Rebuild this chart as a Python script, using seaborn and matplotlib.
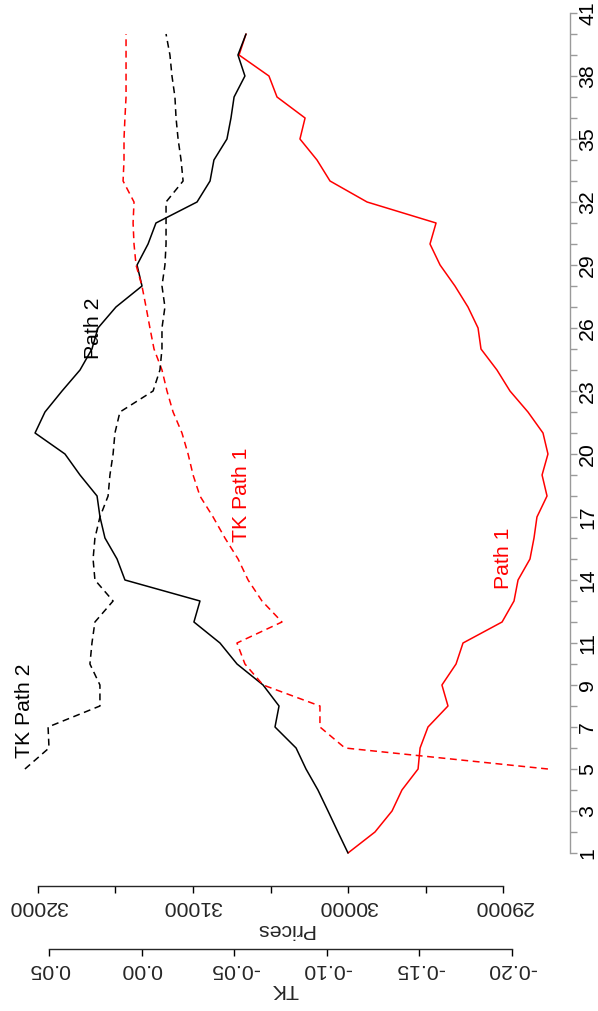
import matplotlib
matplotlib.use("Agg")
import matplotlib.pyplot as plt
import seaborn as sns

# ---- data -----------------------------------------------------------------
time = list(range(1, 41))
path1 = [30000, 29826, 29716, 29652, 29548, 29535, 29484, 29355, 29394, 29303,
         29258, 29006, 28929, 28903, 28826, 28800, 28781, 28716, 28748, 28710,
         28742, 28839, 28955, 29039, 29142, 29161, 29226, 29310, 29406, 29471,
         29432, 29877, 30116, 30200, 30310, 30277, 30458, 30510, 30703, 30658]
path2 = [30000, 30065, 30129, 30194, 30271, 30335, 30471, 30445, 30548, 30716,
         30826, 30994, 30955, 31439, 31490, 31568, 31600, 31619, 31729, 31826,
         32019, 31955, 31845, 31729, 31652, 31613, 31497, 31329, 31361, 31290,
         31239, 30974, 30890, 30865, 30781, 30755, 30735, 30665, 30710, 30658]

tk_time = list(range(5, 41))
tk_path1 = [-0.2194, -0.1098, -0.0963, -0.0963, -0.0656, -0.0558, -0.0515, -0.0758,
            -0.0650, -0.0575, -0.0521, -0.0450, -0.0386, -0.0315, -0.0278, -0.0251,
            -0.0218, -0.0170, -0.0137, -0.0110, -0.0067, -0.0045, -0.0024, -0.0002,
            0.0030, 0.0041, 0.0046, 0.0041, 0.0100, 0.0095, 0.0095, 0.0090,
            0.0084, 0.0084, 0.0084, 0.0084]
tk_path2 = [0.0630, 0.0500, 0.0505, 0.0225, 0.0225, 0.0279, 0.0268, 0.0252,
            0.0154, 0.0252, 0.0262, 0.0252, 0.0225, 0.0181, 0.0171, 0.0154,
            0.0144, 0.0117, -0.0062, -0.0099, -0.0110, -0.0110, -0.0126, -0.0110,
            -0.0126, -0.0132, -0.0132, -0.0132, -0.0224, -0.0213, -0.0197, -0.0186,
            -0.0180, -0.0164, -0.0153, -0.0132]

price_ticks = [29000, 30000, 31000, 32000]
price_minor = [29500, 30500, 31500]
tk_ticks = [-0.20, -0.15, -0.10, -0.05, 0.00, 0.05]
tk_labels = ["-0.20", "-0.15", "-0.10", "-0.05", "0.00", "0.05"]
time_ticks = [1, 3, 5, 7, 9, 11, 14, 17, 20, 23, 26, 29, 32, 35, 38, 41]

# ---- style ----------------------------------------------------------------
sns.set_theme(style="ticks")
plt.rcParams["font.family"] = ["Liberation Sans", "DejaVu Sans"]
FS = 15.3
LW = 1.1

W, H = 598, 1011
fig = plt.figure(figsize=(W / 100, H / 100), dpi=100)
fig.patch.set_facecolor("white")
L, R, T, B = 20, 560, 5, 872
ax = fig.add_axes([L / W, 1 - B / H, (R - L) / W, (B - T) / H])
ax.set_facecolor("none")

# price paths (price on the horizontal axis, time running upwards)
sns.lineplot(x=path1, y=time, orient="y", sort=False, estimator=None,
             color="#FF0000", lw=LW, ax=ax)
sns.lineplot(x=path2, y=time, orient="y", sort=False, estimator=None,
             color="black", lw=LW, ax=ax)
ax.set_xlim(32116.1, 28632.3)
ax.set_ylim(0.0952, 41.381)

# TK values on a second horizontal scale
ax2 = ax.twiny()
sns.lineplot(x=tk_path1, y=tk_time, orient="y", sort=False, estimator=None,
             color="#FF0000", lw=LW, linestyle=(0, (4.5, 3)), ax=ax2)
sns.lineplot(x=tk_path2, y=tk_time, orient="y", sort=False, estimator=None,
             color="black", lw=LW, linestyle=(0, (4.5, 3)), ax=ax2)
ax2.set_xlim(0.06566, -0.22592)
ax2.set_ylim(0.0952, 41.381)

# ---- spines and ticks -----------------------------------------------------
for s in ["top", "left"]:
    ax.spines[s].set_visible(False)
for s in ["top", "left", "right"]:
    ax2.spines[s].set_visible(False)

ax.spines["bottom"].set_position(("outward", 14 * 0.72))
ax.spines["bottom"].set_bounds(29000, 32000)
ax.spines["bottom"].set_linewidth(1.0)
ax.spines["right"].set_position(("outward", 10 * 0.72))
ax.spines["right"].set_bounds(1, 41)
ax.spines["right"].set_color("#9a9a9a")
ax.spines["right"].set_linewidth(1.0)

ax.set_xticks(price_ticks, [str(p) for p in price_ticks])
ax.set_xticks(price_minor, minor=True)
ax.tick_params(axis="x", which="both", direction="out", length=5, width=1.0,
               color="black", pad=3.2, labelsize=FS, labelrotation=180,
               bottom=True, top=False)

ax.yaxis.tick_right()
minor_time = [t for t in range(1, 42) if t not in time_ticks]
ax.set_yticks(time_ticks, [str(t) for t in time_ticks], rotation=90, va="center")
ax.set_yticks(minor_time, minor=True)
ax.tick_params(axis="y", which="both", direction="out", length=5, width=1.0,
               color="#9a9a9a", labelcolor="black", pad=0.8, labelsize=FS,
               right=True, left=False, labelright=True, labelleft=False)

ax2.xaxis.set_ticks_position("bottom")
ax2.xaxis.set_label_position("bottom")
ax2.spines["bottom"].set_position(("outward", 77 * 0.72))
ax2.spines["bottom"].set_bounds(-0.20, 0.05)
ax2.spines["bottom"].set_linewidth(1.0)
ax2.set_xticks(tk_ticks, tk_labels)
ax2.tick_params(axis="x", direction="out", length=5, width=1.0, color="black",
                pad=3.2, labelsize=FS, labelrotation=180, bottom=True, top=False)

# axis titles (upside down, like the tick labels)
ax.set_xlabel("Prices", rotation=180, fontsize=FS, va="center")
ax.xaxis.set_label_coords((285 - L) / (R - L), (B - 930) / (B - T))
ax2.set_xlabel("TK", rotation=180, fontsize=FS, va="center")
ax2.xaxis.set_label_coords((285 - L) / (R - L), (B - 989.5) / (B - T))
ax.set_ylabel("")

# path annotations
ax.text(32084, 7.76, "TK Path 2", color="black", rotation=90,
        ha="center", va="center", fontsize=FS)
ax.text(30690, 18.05, "TK Path 1", color="#FF0000", rotation=90,
        ha="center", va="center", fontsize=FS)
ax.text(29000, 15.05, "Path 1", color="#FF0000", rotation=90,
        ha="center", va="center", fontsize=FS)
ax.text(31640, 26.0, "Path 2", color="black", rotation=90,
        ha="center", va="center", fontsize=FS)

fig.savefig("out.png", dpi=100, facecolor="white")
